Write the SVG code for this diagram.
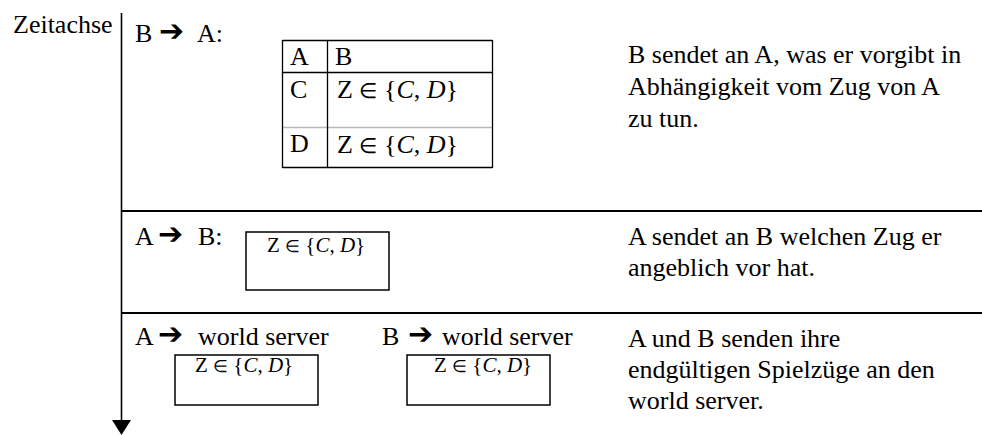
<svg xmlns="http://www.w3.org/2000/svg" width="982" height="435" viewBox="0 0 982 435" font-family="'Liberation Serif', 'Times New Roman', serif">
<style>
  text { font-family: "Liberation Serif", "Times New Roman", serif; font-size: 26px; fill: #000; }
  .arr { font-family: "DejaVu Sans", sans-serif; font-size: 30px; font-weight: bold; }
  .it { font-style: italic; }
  .sm { font-size: 21px; }
  .el { font-size: 0.8em; }
  .box { fill: none; stroke: #000; stroke-width: 1.5; }
  .sep { stroke: #000; stroke-width: 2; }
  .tbl { stroke: #000; stroke-width: 1.3; fill: none; }
  .tblg { stroke: #b8b8b8; stroke-width: 1.3; fill: none; }
</style>
<rect width="982" height="435" fill="#fff"/>

<g id="connectors">
  <line x1="121.5" y1="13" x2="121.5" y2="421" stroke="#000" stroke-width="1.6"/>
  <polygon points="112,420 131,420 121.5,435" fill="#000"/>
  <line class="sep" x1="122" y1="211" x2="982" y2="211"/>
  <line class="sep" x1="122" y1="313" x2="982" y2="313"/>
</g>

<g id="axis-label">
  <text x="13" y="33">Zeitachse</text>
</g>

<g id="step1-label">
  <text y="42"><tspan x="135">B</tspan><tspan class="arr" x="159" dy="-1">➔</tspan><tspan x="197" dy="1">A:</tspan></text>
</g>

<g id="step1-table">
  <line class="tbl" x1="282.5" y1="40.5" x2="492.5" y2="40.5"/>
  <line class="tbl" x1="282.5" y1="72.5" x2="492.5" y2="72.5"/>
  <line class="tblg" x1="282.5" y1="127.5" x2="492.5" y2="127.5"/>
  <line class="tbl" x1="282.5" y1="167.5" x2="492.5" y2="167.5"/>
  <line class="tbl" x1="282.5" y1="40" x2="282.5" y2="168" stroke-width="1.8"/>
  <line class="tbl" x1="327.5" y1="40" x2="327.5" y2="168"/>
  <line class="tbl" x1="492.5" y1="40" x2="492.5" y2="168"/>
  <text x="290" y="65">A</text>
  <text x="335" y="65">B</text>
  <text x="290" y="98">C</text>
  <text x="290" y="152">D</text>
  <text x="337" y="98">Z <tspan class="el">∈</tspan> {<tspan class="it">C</tspan>, <tspan class="it">D</tspan>}</text>
  <text x="337" y="153">Z <tspan class="el">∈</tspan> {<tspan class="it">C</tspan>, <tspan class="it">D</tspan>}</text>
</g>

<g id="step1-desc">
  <text x="628" y="63">B sendet an A, was er vorgibt in</text>
  <text x="628" y="95">Abhängigkeit vom Zug von A</text>
  <text x="628" y="127">zu tun.</text>
</g>

<g id="step2-label">
  <text y="245"><tspan x="135">A</tspan><tspan class="arr" x="158" dy="-1">➔</tspan><tspan x="198" dy="1">B:</tspan></text>
</g>

<g id="step2-box">
  <rect class="box" x="246" y="232" width="143" height="58"/>
  <text class="sm" x="267" y="252">Z <tspan class="el">∈</tspan> {<tspan class="it">C</tspan>, <tspan class="it">D</tspan>}</text>
</g>

<g id="step2-desc">
  <text x="628" y="245">A sendet an B welchen Zug er</text>
  <text x="628" y="276">angeblich vor hat.</text>
</g>

<g id="step3-label-a">
  <text y="345"><tspan x="135">A</tspan><tspan class="arr" x="158" dy="-1">➔</tspan><tspan x="198" dy="1">world server</tspan></text>
</g>

<g id="step3-box-a">
  <rect class="box" x="175" y="355" width="143" height="50"/>
  <text class="sm" x="195" y="372">Z <tspan class="el">∈</tspan> {<tspan class="it">C</tspan>, <tspan class="it">D</tspan>}</text>
</g>

<g id="step3-label-b">
  <text y="345"><tspan x="382">B</tspan><tspan class="arr" x="408" dy="-1">➔</tspan><tspan x="442" dy="1">world server</tspan></text>
</g>

<g id="step3-box-b">
  <rect class="box" x="407" y="355" width="143" height="50"/>
  <text class="sm" x="434" y="372">Z <tspan class="el">∈</tspan> {<tspan class="it">C</tspan>, <tspan class="it">D</tspan>}</text>
</g>

<g id="step3-desc">
  <text x="628" y="347">A und B senden ihre</text>
  <text x="628" y="378">endgültigen Spielzüge an den</text>
  <text x="628" y="409">world server.</text>
</g>
</svg>
